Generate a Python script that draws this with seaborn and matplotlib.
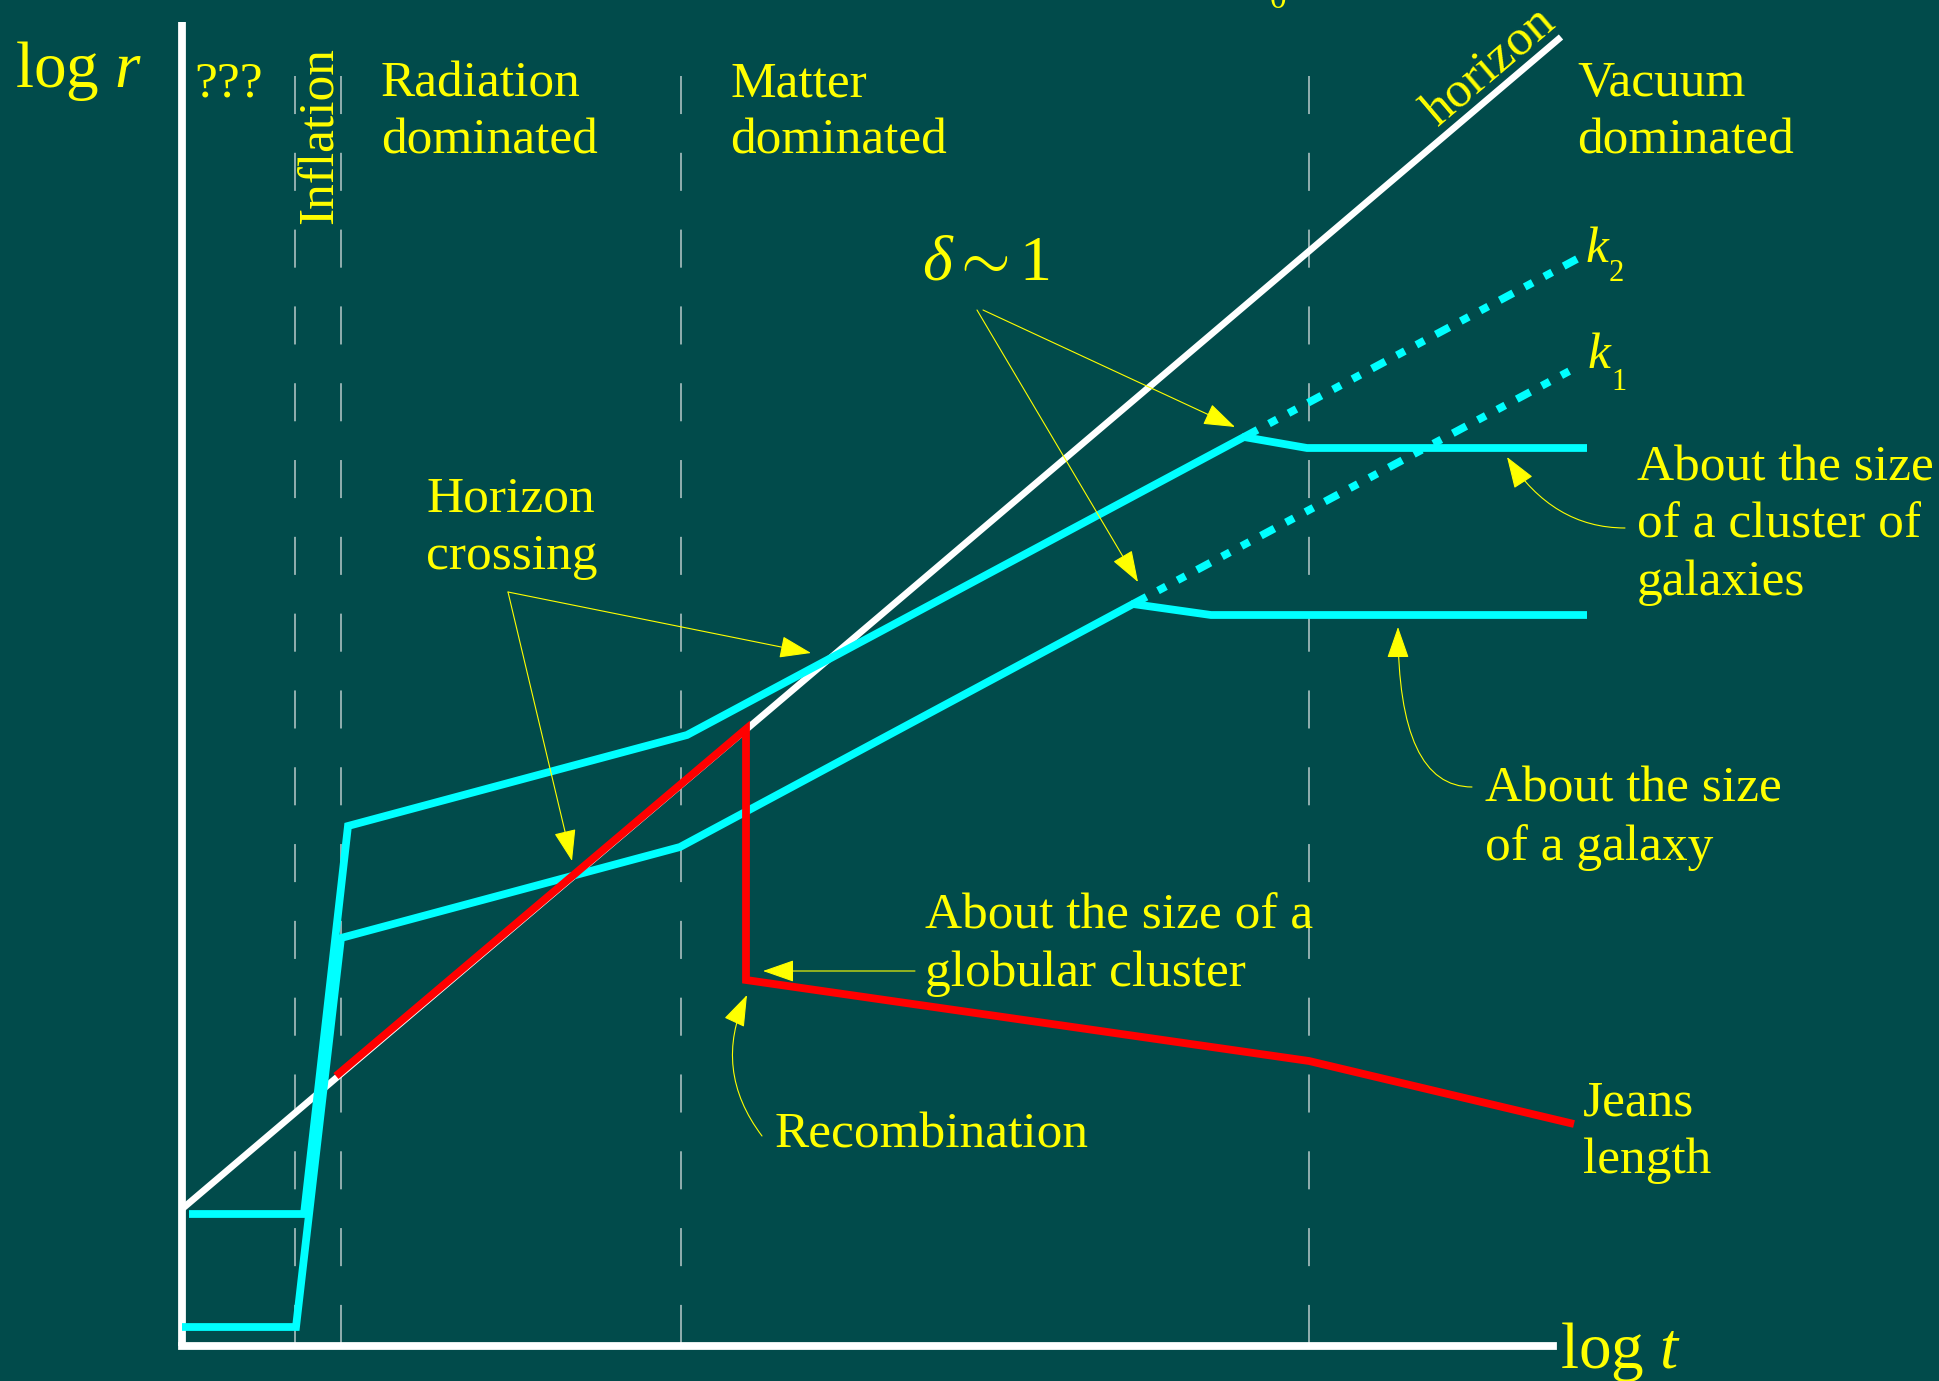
import matplotlib
matplotlib.use("Agg")
import matplotlib.pyplot as plt
import pandas as pd
import seaborn as sns

# Growth of perturbation scales against the horizon: log r versus log t

# boundaries between the cosmic epochs on the log t axis
epoch_edges = [1.13, 1.59, 4.99, 11.27]

# causal horizon
horizon_t = [0.0, 13.79]
horizon_r = [1.37, 13.09]

# comoving scale k2 (cluster of galaxies) and its linear-growth continuation
k2_t = [0.07, 1.22, 1.66, 5.05, 10.62, 11.25, 14.05]
k2_r = [1.32, 1.32, 5.20, 6.11, 9.09, 8.98, 8.98]
k2_lin_t = [10.62, 13.95]
k2_lin_r = [9.09, 10.87]

# comoving scale k1 (galaxy) and its linear-growth continuation
k1_t = [0.0, 1.14, 1.59, 4.98, 9.51, 10.29, 14.05]
k1_r = [0.19, 0.19, 4.08, 4.99, 7.42, 7.31, 7.31]
k1_lin_t = [9.51, 13.95]
k1_lin_r = [7.42, 9.79]

# Jeans length, with the drop at recombination
jeans_t = [1.54, 5.64, 5.64, 11.27, 13.92]
jeans_r = [2.70, 6.17, 3.66, 2.85, 2.22]

# extent of the drawn axes
axis_t_max = 13.71
axis_r_max = 13.24
epoch_top = 12.70

BG = "#014b4b"
YELLOW = "#ffff00"
CYAN = "#00ffff"
RED = "#ff0000"

sns.set_theme(style="dark", rc={"axes.facecolor": BG, "figure.facecolor": BG,
                                "lines.scale_dashes": False})
plt.rcParams["font.family"] = ["Liberation Serif", "DejaVu Serif"]
plt.rcParams["mathtext.fontset"] = "custom"
plt.rcParams["mathtext.rm"] = "Liberation Serif"
plt.rcParams["mathtext.it"] = "Liberation Serif:italic"

fig = plt.figure(figsize=(19.4, 13.81), dpi=100)
ax = fig.add_axes([0, 0, 1, 1])
ax.set_xlim(-1.82, 17.58)
ax.set_ylim(-0.35, 13.46)
ax.set_axis_off()


def curve(t, r, **kw):
    df = pd.DataFrame({"t": t, "r": r})
    sns.lineplot(data=df, x="t", y="r", sort=False, estimator=None, ax=ax,
                 legend=False, **kw)


# epoch separators
for edge in epoch_edges:
    curve([edge, edge], [epoch_top, 0.0], color="#b9caca", lw=1.1,
          linestyle=(0, (27.4, 27.9)), solid_capstyle="butt")

# axes
curve([0.0, 0.0], [0.0, axis_r_max], color="white", lw=5.6, solid_capstyle="butt")
curve([0.0, axis_t_max], [0.0, 0.0], color="white", lw=5.6, solid_capstyle="projecting")

# horizon
curve(horizon_t, horizon_r, color="white", lw=4.8, solid_capstyle="butt")

# perturbation scales
dotted = (0, (11, 9.4, 6.5, 9.4, 6.5, 9.4))
for t, r, lt, lr in [(k2_t, k2_r, k2_lin_t, k2_lin_r), (k1_t, k1_r, k1_lin_t, k1_lin_r)]:
    curve(lt, lr, color=CYAN, lw=5.6, linestyle=dotted, dash_capstyle="butt")
    curve(t, r, color=CYAN, lw=5.6, solid_joinstyle="miter", solid_capstyle="butt")

# Jeans length
curve(jeans_t, jeans_r, color=RED, lw=5.6, solid_joinstyle="miter", solid_capstyle="butt")

# ---- text ----
BODY = 37
STEP = 0.575


def label(x, y, lines, size=BODY, **kw):
    for i, line in enumerate(lines):
        ax.text(x, y - i * STEP, line, color=YELLOW, fontsize=size,
                ha="left", va="baseline", **kw)


ax.text(-1.67, 12.59, r"log $r$", color=YELLOW, fontsize=47, ha="left", va="baseline")
ax.text(13.78, -0.22, r"log $t$", color=YELLOW, fontsize=47, ha="left", va="baseline")

label(0.12, 12.50, ["???"])
ax.text(1.51, 11.22, "Inflation", color=YELLOW, fontsize=BODY, rotation=90,
        rotation_mode="anchor", ha="left", va="baseline")
label(1.99, 12.50, ["Radiation", "dominated"])
label(5.48, 12.50, ["Matter", "dominated"])
label(13.95, 12.50, ["Vacuum", "dominated"])

ax.text(12.56, 12.18, "horizon", color=YELLOW, fontsize=BODY, rotation=40.4,
        rotation_mode="anchor", ha="left", va="baseline")
ax.text(10.88, 13.38, "0", color=YELLOW, fontsize=24, ha="left", va="baseline")

ax.text(7.40, 10.67, r"$\delta{\sim}1$", color=YELLOW, fontsize=46,
        ha="left", va="baseline")

ax.text(14.04, 10.84, "k", color=YELLOW, fontsize=BODY, style="italic",
        ha="left", va="baseline")
ax.text(14.27, 10.65, "2", color=YELLOW, fontsize=22, ha="left", va="baseline")
ax.text(14.06, 9.78, "k", color=YELLOW, fontsize=BODY, style="italic",
        ha="left", va="baseline")
ax.text(14.29, 9.56, "1", color=YELLOW, fontsize=22, ha="left", va="baseline")

label(2.44, 8.35, ["Horizon", "crossing"])
label(14.55, 8.66, ["About the size", "of a cluster of", "galaxies"])
label(13.03, 5.44, ["About the size", "of a galaxy"])
label(7.43, 4.18, ["About the size of a", "globular cluster"])
label(5.93, 1.98, ["Recombination"])
label(14.01, 2.31, ["Jeans", "length"])

# ---- arrows ----
HEAD = "-|>,head_length=1.0,head_width=0.35"


def arrow(src, dst, conn="arc3"):
    ax.annotate("", xy=dst, xytext=src,
                arrowprops=dict(arrowstyle=HEAD, mutation_scale=20, color=YELLOW,
                                lw=0.8, shrinkA=0, shrinkB=0, connectionstyle=conn))


arrow((3.26, 7.54), (6.29, 6.93))
arrow((3.26, 7.54), (3.90, 4.85))
arrow((7.95, 10.36), (9.56, 7.64))
arrow((8.01, 10.36), (10.53, 9.19))
arrow((7.33, 3.75), (5.81, 3.75))
arrow((5.80, 2.10), (5.65, 3.51), "arc3,rad=-0.3")
arrow((14.43, 8.18), (13.25, 8.89), "angle3,angleA=0,angleB=-57")
arrow((12.90, 5.59), (12.16, 7.19), "angle3,angleA=0,angleB=90")

fig.savefig("out.png", dpi=100, facecolor=BG)
